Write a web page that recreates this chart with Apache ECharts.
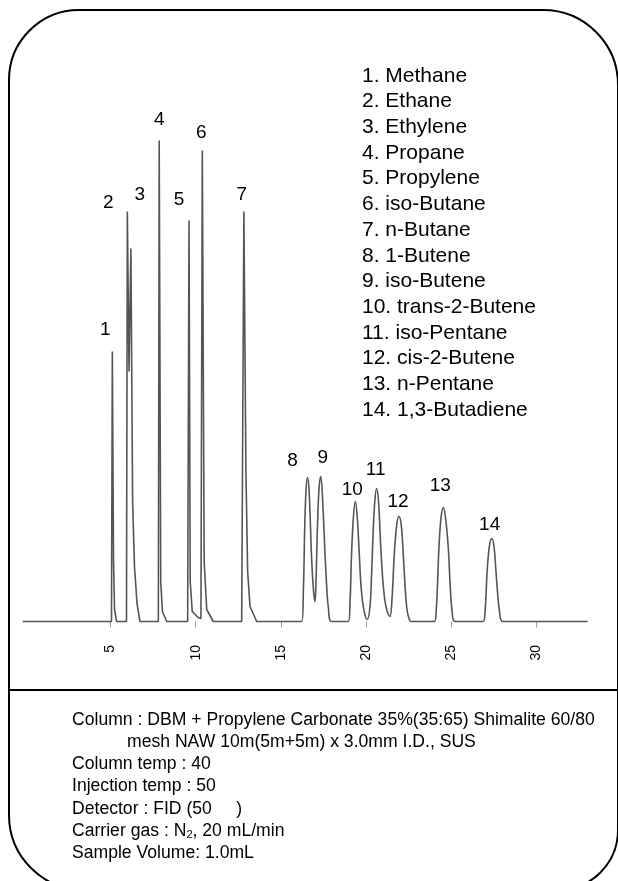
<!DOCTYPE html>
<html>
<head>
<meta charset="utf-8">
<script src="https://cdn.jsdelivr.net/npm/echarts@6/dist/echarts.min.js"></script>
<style>
  html, body { margin: 0; padding: 0; background: #fff; }
  #chart { width: 618px; height: 881px; }
</style>
</head>
<body>
<div id="chart"></div>
<script>
// Early, very narrow peaks (1-7): retention time (min) and detector response
const fastTime = [
  -0.15, 5.06, 5.11, 5.18, 5.24, 5.36,
  5.94, 5.99, 6.09, 6.20, 6.30, 6.41, 6.56, 6.73,
  7.81, 7.86, 7.95, 8.05, 8.30,
  9.53, 9.61, 9.68, 9.80, 10.15,
  10.31, 10.39, 10.50, 10.65, 11.03,
  12.70, 12.83, 12.95, 13.05, 13.19, 13.58,
  15.0
];
const fastSignal = [
  0, 0, 270, 60, 12, 0,
  0, 410, 250, 373, 120, 55, 18, 0,
  0, 481, 40, 10, 0,
  0, 401, 40, 10, 4,
  3, 471, 60, 12, 0,
  0, 410, 150, 50, 15, 0,
  0
];

// Later, broader peaks (8-14): retention time (min) and detector response
const slowTime = [
  15.0, 16.22, 16.32, 16.41, 16.49, 16.57, 16.66, 16.81, 16.92, 17.00,
  17.07, 17.14, 17.24, 17.34, 17.46, 17.59, 17.70, 17.78, 17.98,
  18.96, 19.06, 19.15, 19.26, 19.37, 19.48, 19.60, 19.72, 19.88, 20.07,
  20.23, 20.33, 20.42, 20.52, 20.62, 20.73, 20.86, 20.98, 21.08, 21.17, 21.28, 21.40,
  21.52, 21.66, 21.80, 21.93, 22.06, 22.18, 22.28, 22.38, 22.50, 22.65,
  24.00, 24.12, 24.28, 24.40, 24.53, 24.66, 24.82, 24.94, 25.04, 25.22,
  26.86, 26.98, 27.11, 27.24, 27.37, 27.50, 27.62, 27.72, 27.82, 28.02,
  33.0
];
const slowSignal = [
  0, 0, 30, 101, 135, 144, 130, 61, 30, 20,
  45, 91, 133, 145, 118, 68, 32, 15, 0,
  0, 20, 68, 105, 120, 105, 68, 32, 11, 2,
  15, 50, 91, 122, 133, 120, 75, 42, 24, 15, 8, 5,
  22, 68, 97, 105, 97, 68, 38, 15, 4, 0,
  0, 12, 75, 104, 114, 104, 75, 35, 12, 0,
  0, 10, 51, 76, 83, 76, 51, 28, 12, 0,
  0
];

// Peak apexes (numbered 1..14)
const peakTime   = [5.11, 5.99, 6.20, 7.86, 9.61, 10.39, 12.83, 16.57, 17.34, 19.37, 20.62, 21.93, 24.53, 27.37];
const peakHeight = [270, 410, 373, 481, 401, 471, 410, 144, 145, 120, 133, 105, 114, 83];

const compounds = [
  'Methane', 'Ethane', 'Ethylene', 'Propane', 'Propylene', 'iso-Butane', 'n-Butane',
  '1-Butene', 'iso-Butene', 'trans-2-Butene', 'iso-Pentane', 'cis-2-Butene', 'n-Pentane', '1,3-Butadiene'
];

const timeTicks = [5, 10, 15, 20, 25, 30];

const conditions = [
  'Column : DBM + Propylene Carbonate 35%(35:65) Shimalite 60/80',
  'mesh NAW 10m(5m+5m) x 3.0mm I.D., SUS',
  'Column temp : 40',
  'Injection temp : 50',
  'Detector : FID (50     )',
  'Carrier gas : N{sub|2}, 20 mL/min',
  'Sample Volume: 1.0mL'
];

// Label placement tweaks for the peak numbers (px, relative to apex)
const labelNudge = [
  [-7, -22], [-19, -9], [9, -54], [0, -21], [-10, -21], [-1, -18], [-2, -17],
  [-15, -17], [2, -19], [-3, -12], [-1, -19], [-1, -15], [-3, -22], [-2, -14]
];

const FONT = 'Liberation Sans, Arial, sans-serif';
const TRACE = { color: '#555', width: 1.6 };

const chart = echarts.init(document.getElementById('chart'), null, { renderer: 'canvas' });

const zip = (xs, ys) => xs.map((x, i) => [x, ys[i]]);
const peakData = peakTime.map((t, i) => ({
  value: [t, peakHeight[i]],
  label: { offset: labelNudge[i] }
}));

const graphics = [
  {
    type: 'rect',
    shape: { x: 9, y: 10, width: 609, height: 880, r: [70, 75, 60, 75] },
    style: { fill: 'none', stroke: '#000', lineWidth: 2 },
    silent: true
  },
  {
    type: 'line',
    shape: { x1: 9, y1: 690, x2: 618, y2: 690 },
    style: { stroke: '#000', lineWidth: 2 },
    silent: true
  },
  {
    type: 'text',
    left: 362,
    top: 63,
    style: {
      text: compounds.map((c, i) => (i + 1) + '. ' + c).join('\n'),
      font: '21px ' + FONT,
      lineHeight: 25.7,
      fill: '#000'
    }
  }
];

conditions.forEach((line, i) => {
  graphics.push({
    type: 'text',
    left: i === 1 ? 127 : 72,
    top: 711 + i * 22.2,
    style: {
      text: line,
      font: '17.6px ' + FONT,
      fill: '#000',
      rich: {
        sub: { fontSize: 11, fontFamily: FONT, verticalAlign: 'bottom', padding: [8, 0, 0, 0], fill: '#000' }
      }
    }
  });
});

chart.setOption({
  animation: false,
  backgroundColor: '#fff',
  grid: { left: 22.7, right: 28.7, top: 134, bottom: 247 },
  xAxis: {
    type: 'value',
    min: -0.15,
    max: 33.1,
    axisLine: { show: false },
    splitLine: { show: false },
    axisTick: {
      show: true,
      customValues: timeTicks,
      length: 6,
      lineStyle: { color: '#999', width: 1 }
    },
    axisLabel: {
      customValues: timeTicks,
      rotate: 90,
      margin: 11,
      fontSize: 14,
      fontFamily: FONT,
      color: '#000'
    }
  },
  yAxis: {
    type: 'value',
    min: -12.5,
    max: 487.5,
    show: false
  },
  series: [
    {
      type: 'line',
      data: zip(fastTime, fastSignal),
      showSymbol: false,
      lineStyle: TRACE,
      silent: true
    },
    {
      type: 'line',
      data: zip(slowTime, slowSignal),
      showSymbol: false,
      smooth: 0.4,
      lineStyle: TRACE,
      silent: true
    },
    {
      type: 'scatter',
      data: peakData,
      symbolSize: 0,
      itemStyle: { color: '#000', opacity: 1 },
      label: {
        show: true,
        position: 'inside',
        formatter: p => String(p.dataIndex + 1),
        fontSize: 19,
        fontFamily: FONT,
        color: '#000',
        opacity: 1,
        textBorderWidth: 0
      },
      silent: true
    }
  ],
  graphic: graphics
});
</script>
</body>
</html>
